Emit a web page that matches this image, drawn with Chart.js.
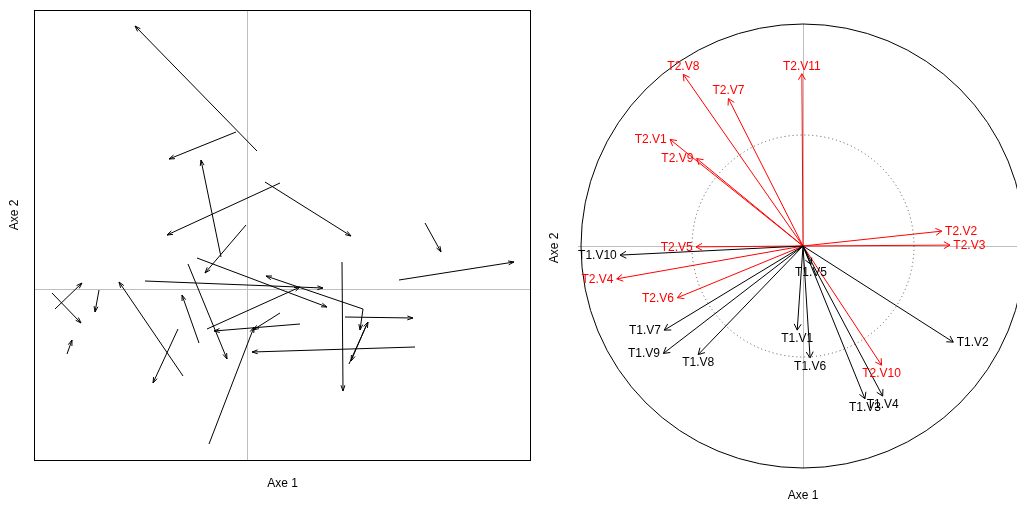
<!DOCTYPE html>
<html lang="fr">
<head>
    <meta charset="UTF-8">
    <title>Procuste</title>
    <script src="https://cdn.jsdelivr.net/npm/chart.js"></script>
    <style>
        body { margin: 0; background: #fff; }
        #wrap { position: relative; width: 1017px; height: 505px; }
        canvas { position: absolute; top: 0; }
    </style>
</head>
<body>
    <div id="wrap">
        <canvas id="left" width="540" height="505" style="left:0"></canvas>
        <canvas id="right" width="477" height="505" style="left:540px"></canvas>
    </div>
    <script>
        // panneau gauche : fleches du tableau 1 vers le tableau 2
        const startX = [0.10, -0.11, -0.26, 0.33, 0.18, -0.01, -0.50, -1.02, 1.16, -0.40, 0.53, 0.33, -0.38, 1.68, -0.59,
                        -0.48, -0.64, -0.69, -1.92, -1.95, -1.48, -1.80, 1.52, 1.78, 0.95, 0.98, 1.02, 1.19, 1.16];
        const startY = [1.38, 1.57, 0.32, 1.06, 1.07, 0.64, 0.31, 0.08, -0.20, -0.40, -0.35, -0.24, -1.55, -0.58, 0.25,
                        -0.54, -0.87, -0.40, -0.20, -0.04, -0.01, -0.65, 0.09, 0.66, 0.27, -0.28, -0.75, -0.37, -0.20];
        const endX = [-1.12, -0.78, -0.46, -0.80, 1.04, -0.42, 0.80, 0.76, 0.19, 0.53, -0.33, 0.06, 0.07, 0.05, -0.20,
                      -0.65, -1.28, -0.94, -1.65, -1.66, -1.52, -1.75, 2.67, 1.94, 0.96, 1.66, 1.21, 1.04, 1.13];
        const endY = [2.63, 1.30, 1.29, 0.54, 0.53, 0.16, -0.18, 0.01, 0.13, 0.02, -0.42, -0.41, -0.38, -0.63, -0.70,
                      -0.06, 0.07, -0.94, 0.06, -0.34, -0.23, -0.51, 0.27, 0.37, -1.02, -0.29, -0.33, -0.72, -0.41];

        // panneau droit : cercle des correlations
        const t1Labels = ['T1.V1', 'T1.V2', 'T1.V3', 'T1.V4', 'T1.V5', 'T1.V6', 'T1.V7', 'T1.V8', 'T1.V9', 'T1.V10'];
        const t1X = [-0.026, 0.677, 0.279, 0.359, 0.036, 0.032, -0.625, -0.472, -0.629, -0.824];
        const t1Y = [-0.379, -0.433, -0.688, -0.676, -0.083, -0.504, -0.379, -0.489, -0.484, -0.041];
        const t2Labels = ['T2.V1', 'T2.V2', 'T2.V3', 'T2.V4', 'T2.V5', 'T2.V6', 'T2.V7', 'T2.V8', 'T2.V9', 'T2.V10', 'T2.V11'];
        const t2X = [-0.599, 0.625, 0.662, -0.839, -0.482, -0.566, -0.336, -0.539, -0.479, 0.354, -0.005];
        const t2Y = [0.480, 0.067, 0.004, -0.148, -0.004, -0.233, 0.664, 0.773, 0.394, -0.537, 0.776];

        const axisTitles = ['Axe 1', 'Axe 2'];
        const FONT = '12px "Liberation Sans", Arial, sans-serif';

        const arrowHeads =
        {
            id: 'arrowHeads',
            afterDatasetsDraw(chart, args, opts)
            {
                const ctx = chart.ctx;
                chart.data.datasets.forEach((ds, i) =>
                {
                    const pts = chart.getDatasetMeta(i).data;
                    const a = pts[0], b = pts[1];
                    const ang = Math.atan2(b.y - a.y, b.x - a.x);
                    ctx.save();
                    ctx.strokeStyle = ds.borderColor;
                    ctx.lineWidth = 1;
                    ctx.beginPath();
                    ctx.moveTo(b.x - opts.len * Math.cos(ang - opts.angle), b.y - opts.len * Math.sin(ang - opts.angle));
                    ctx.lineTo(b.x, b.y);
                    ctx.lineTo(b.x - opts.len * Math.cos(ang + opts.angle), b.y - opts.len * Math.sin(ang + opts.angle));
                    ctx.stroke();
                    ctx.restore();
                });
            }
        };

        const frame =
        {
            id: 'frame',
            beforeDatasetsDraw(chart, args, opts)
            {
                const ctx = chart.ctx;
                const area = chart.chartArea;
                const cx = chart.scales.x.getPixelForValue(0);
                const cy = chart.scales.y.getPixelForValue(0);
                ctx.save();
                ctx.strokeStyle = '#bebebe';
                ctx.lineWidth = 1;
                ctx.beginPath();
                ctx.moveTo(area.left - opts.hExtra, Math.round(cy) + 0.5);
                ctx.lineTo(area.right, Math.round(cy) + 0.5);
                ctx.moveTo(Math.round(cx) + 0.5, area.top);
                ctx.lineTo(Math.round(cx) + 0.5, area.bottom);
                ctx.stroke();
                if (opts.box)
                {
                    ctx.strokeStyle = '#000';
                    ctx.strokeRect(area.left + 0.5, area.top + 0.5, area.right - area.left - 1, area.bottom - area.top - 1);
                }
                if (opts.circle)
                {
                    const r = chart.scales.x.getPixelForValue(1) - cx;
                    ctx.strokeStyle = '#000';
                    ctx.beginPath();
                    ctx.arc(cx, cy, r, 0, Math.PI * 2);
                    ctx.stroke();
                    ctx.strokeStyle = '#555';
                    ctx.setLineDash([1, 3]);
                    ctx.beginPath();
                    ctx.arc(cx, cy, r / 2, 0, Math.PI * 2);
                    ctx.stroke();
                }
                ctx.restore();
            },
            afterDraw(chart, args, opts)
            {
                const ctx = chart.ctx;
                ctx.save();
                ctx.font = FONT;
                ctx.fillStyle = '#000';
                ctx.textAlign = 'center';
                ctx.textBaseline = 'middle';
                ctx.fillText(axisTitles[0], opts.xTitle[0], opts.xTitle[1]);
                ctx.translate(opts.yTitle[0], opts.yTitle[1]);
                ctx.rotate(-Math.PI / 2);
                ctx.fillText(axisTitles[1], 0, 0);
                ctx.restore();
            }
        };

        // etiquettes placees comme scatterutil.eti.circ
        const circLabels =
        {
            id: 'circLabels',
            afterDraw(chart)
            {
                const ctx = chart.ctx;
                ctx.save();
                ctx.font = FONT;
                ctx.textAlign = 'center';
                ctx.textBaseline = 'middle';
                chart.data.datasets.forEach((ds, i) =>
                {
                    const b = chart.getDatasetMeta(i).data[1];
                    const v = ds.data[1];
                    const w = ctx.measureText(' ' + ds.label + ' ').width;
                    let px = b.x, py = b.y;
                    if (v.x > v.y && v.x > -v.y) px += w / 2;
                    else if (v.x > v.y) py += 8;
                    else if (v.x <= -v.y) px -= w / 2;
                    else py -= 8;
                    ctx.fillStyle = ds.borderColor;
                    ctx.fillText(ds.label, px, py + 0.5);
                });
                ctx.restore();
            }
        };

        function baseOptions(xr, yr, padding)
        {
            return {
                responsive: false,
                animation: false,
                events: [],
                layout: { padding: padding },
                scales:
                {
                    x: { type: 'linear', min: xr[0], max: xr[1], display: false },
                    y: { type: 'linear', min: yr[0], max: yr[1], display: false }
                },
                plugins: { legend: { display: false }, tooltip: { enabled: false } }
            };
        }

        function arrowSet(label, x0, y0, x1, y1, color)
        {
            return {
                label: label,
                data: [{ x: x0, y: y0 }, { x: x1, y: y1 }],
                showLine: true,
                borderColor: color,
                borderWidth: 1,
                pointRadius: 0,
                clip: false
            };
        }

        const leftSets = startX.map((v, i) => arrowSet('', v, startY[i], endX[i], endY[i], '#000'));
        const leftOpts = baseOptions([-2.13, 2.84], [-1.72, 2.79], { left: 34, right: 9, top: 10, bottom: 44 });
        leftOpts.plugins.arrowHeads = { len: 6, angle: 0.33 };
        leftOpts.plugins.frame = { box: true, circle: false, hExtra: 0, xTitle: [282.5, 484], yTitle: [15, 215] };
        new Chart(document.getElementById('left'),
        {
            type: 'scatter',
            data: { datasets: leftSets },
            options: leftOpts,
            plugins: [frame, arrowHeads]
        });

        const rightSets = t1Labels.map((l, i) => arrowSet(l, 0, 0, t1X[i], t1Y[i], '#000'))
            .concat(t2Labels.map((l, i) => arrowSet(l, 0, 0, t2X[i], t2Y[i], '#ff0000')));
        const rightOpts = baseOptions([-1, 214 / 222], [-1, 1], { left: 41, right: 0, top: 24, bottom: 37 });
        rightOpts.plugins.arrowHeads = { len: 7, angle: 0.52 };
        rightOpts.plugins.frame = { box: false, circle: true, hExtra: 3, xTitle: [263, 496], yTitle: [15, 248] };
        new Chart(document.getElementById('right'),
        {
            type: 'scatter',
            data: { datasets: rightSets },
            options: rightOpts,
            plugins: [frame, arrowHeads, circLabels]
        });
    </script>
</body>
</html>
